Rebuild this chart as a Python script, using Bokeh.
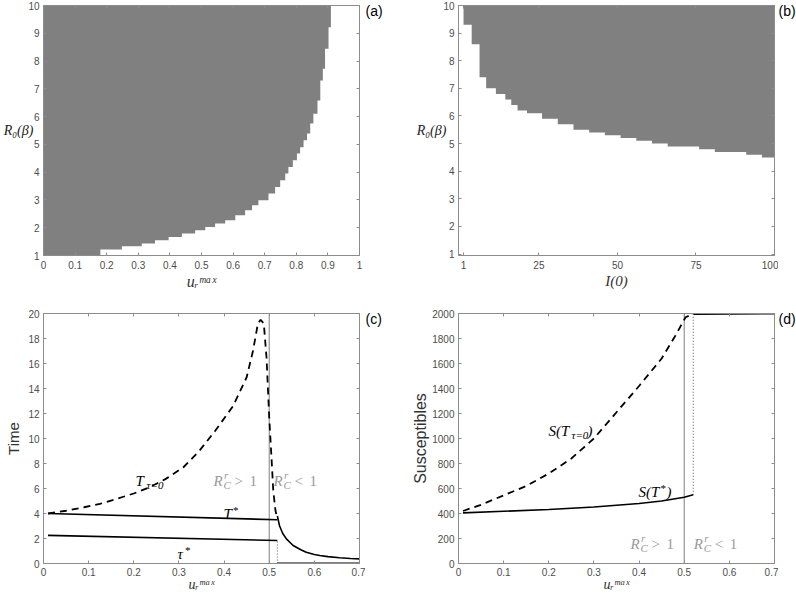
from bokeh.plotting import figure
from bokeh.models import Range1d, FixedTicker, LinearAxis, Label, CustomJSTickFormatter, Spacer
from bokeh.layouts import column, row
from bokeh.embed import file_html
from bokeh.resources import INLINE

# ---------------- data ----------------
# (a) feasible region: rows of R0 with right edge in u_r^max
a_R_lo = [1.0, 1.22, 1.33, 1.43, 1.55, 1.67, 1.79, 1.91, 2.03, 2.15, 2.27, 2.45, 2.63, 2.81, 2.99,
          3.23, 3.47, 3.71, 3.95, 4.19, 4.43, 4.67, 4.9, 5.15, 5.39, 5.75, 6.1, 6.58, 7.3, 7.72, 8.44, 9.22]
a_R_hi = a_R_lo[1:] + [10.0]
a_u_edge = [0.18, 0.248, 0.311, 0.353, 0.396, 0.438, 0.48, 0.512, 0.543, 0.575, 0.607, 0.638, 0.66, 0.68, 0.712,
            0.733, 0.749, 0.765, 0.775, 0.789, 0.802, 0.812, 0.823, 0.834, 0.844, 0.854, 0.867, 0.876, 0.884, 0.891,
            0.902, 0.9095]

# (b) region above threshold R0 for I(0)
b_I_left = [1, 3.6, 6.1, 8.2, 11.3, 14.3, 16.2, 18.2, 21.2, 26, 31, 36, 41, 46, 51, 56, 61, 66, 76, 81, 91, 96]
b_I_right = b_I_left[1:] + [100]
b_R_thr = [9.3, 8.6, 7.4, 7.0, 6.8, 6.6, 6.4, 6.2, 6.1, 5.9, 5.7, 5.5, 5.4, 5.3, 5.2, 5.1, 5.0, 4.9, 4.8, 4.7, 4.6, 4.5]

# (c) times
c_T0_u = [0.01, 0.05, 0.09, 0.125, 0.16, 0.2, 0.235, 0.27, 0.31, 0.345, 0.38, 0.42, 0.45, 0.464, 0.475,
          0.481, 0.488, 0.494, 0.5, 0.505, 0.509, 0.514, 0.518]
c_T0_v = [4.0, 4.22, 4.5, 4.77, 5.15, 5.6, 6.1, 6.75, 7.7, 9.0, 10.6, 12.6, 14.9, 17.0, 19.2,
          19.5, 19.2, 16.5, 11.7, 8.5, 5.8, 4.2, 3.6]
c_Tstar_u = [0.01, 0.518]
c_Tstar_v = [4.0, 3.5]
c_tail_u = [0.518, 0.523, 0.53, 0.538, 0.553, 0.57, 0.582, 0.6, 0.612, 0.63, 0.656, 0.68, 0.7]
c_tail_v = [3.8, 3.0, 2.4, 1.97, 1.44, 1.1, 0.9, 0.72, 0.64, 0.55, 0.46, 0.4, 0.37]
c_tau_u = [0.01, 0.518]
c_tau_v = [2.25, 1.84]
c_zero_u = [0.518, 0.7]
c_zero_v = [0.0, 0.0]
c_switch = 0.518
c_RC1 = 0.5

# (d) susceptibles
d_S0_u = [0.01, 0.05, 0.1, 0.15, 0.2, 0.25, 0.3, 0.35, 0.4, 0.45, 0.48, 0.503, 0.515]
d_S0_v = [420, 470, 545, 620, 720, 840, 1000, 1210, 1420, 1640, 1820, 1970, 1990]
d_top_u = [0.52, 0.7]
d_top_v = [1995, 2000]
d_Sstar_u = [0.01, 0.1, 0.2, 0.3, 0.4, 0.45, 0.5, 0.52]
d_Sstar_v = [405, 418, 432, 452, 480, 500, 530, 550]
d_switch = 0.52
d_RC1 = 0.5

a_xticks = [0, 0.1, 0.2, 0.3, 0.4, 0.5, 0.6, 0.7, 0.8, 0.9, 1]
a_yticks = [1, 2, 3, 4, 5, 6, 7, 8, 9, 10]
b_xticks = [1, 25, 50, 75, 100]
cd_xticks = [0, 0.1, 0.2, 0.3, 0.4, 0.5, 0.6, 0.7]
c_yticks = [0, 2, 4, 6, 8, 10, 12, 14, 16, 18, 20]
d_yticks = [0, 200, 400, 600, 800, 1000, 1200, 1400, 1600, 1800, 2000]

panel_tags = ["(a)", "(b)", "(c)", "(d)"]

# ---------------- style ----------------
GRAY = "#808080"
AX = "#8c8c8c"
TXT = "#4d4d4d"
LBL = "#9a9a9a"
SERIF = "Liberation Serif"
SANS = "Liberation Sans"
U_MAX = "uᵣᵐᵃˣ"
R0B = "R₀(β)"


def make_fig(xr, yr, fw, fh, mbl, mbr, mbt, mbb, xt, yt):
    p = figure(x_range=Range1d(*xr), y_range=Range1d(*yr), frame_width=fw, frame_height=fh,
               min_border_left=mbl, min_border_right=mbr, min_border_top=mbt, min_border_bottom=mbb,
               output_backend="svg", toolbar_location=None,
               background_fill_color="white", border_fill_color="white")
    p.grid.visible = False
    p.outline_line_color = AX
    bx, ly = p.below[0], p.left[0]
    fmt = "return String(Math.round(tick*1000)/1000)"
    bx.ticker = FixedTicker(ticks=xt)
    ly.ticker = FixedTicker(ticks=yt)
    bx.formatter = CustomJSTickFormatter(code=fmt)
    ly.formatter = CustomJSTickFormatter(code=fmt)
    top = LinearAxis(ticker=FixedTicker(ticks=xt), formatter=CustomJSTickFormatter(code="return ''"),
                     major_label_text_font_size="0px", major_label_standoff=0)
    rgt = LinearAxis(ticker=FixedTicker(ticks=yt), formatter=CustomJSTickFormatter(code="return ''"),
                     major_label_text_font_size="0px", major_label_standoff=0)
    p.add_layout(top, "above")
    p.add_layout(rgt, "right")
    for ax in (bx, ly, top, rgt):
        ax.major_tick_in = 3
        ax.major_tick_out = 0
        ax.minor_tick_line_color = None
        ax.axis_line_color = AX
        ax.major_tick_line_color = AX
    for ax in (bx, ly):
        ax.major_label_text_font = SANS
        ax.major_label_text_font_size = "10px"
        ax.major_label_text_color = TXT
    bx.major_label_standoff = 5
    ly.major_label_standoff = 4
    return p, bx, ly


def math_xlabel(ax, text, size=16, standoff=1):
    ax.axis_label = text
    ax.axis_label_text_font = SERIF
    ax.axis_label_text_font_style = "italic"
    ax.axis_label_text_font_size = f"{size}px"
    ax.axis_label_text_color = "#333333"
    ax.axis_label_standoff = standoff


def math_ylabel(ax, text, standoff):
    ax.axis_label = text
    ax.axis_label_orientation = "horizontal"
    ax.axis_label_text_font = SERIF
    ax.axis_label_text_font_style = "italic"
    ax.axis_label_text_font_size = "14px"
    ax.axis_label_text_color = "#222222"
    ax.axis_label_standoff = standoff


def sans_ylabel(ax, text, size, standoff):
    ax.axis_label = text
    ax.axis_label_text_font = SANS
    ax.axis_label_text_font_style = "normal"
    ax.axis_label_text_font_size = f"{size}px"
    ax.axis_label_text_color = "#333333"
    ax.axis_label_standoff = standoff


def put(p, x, y, text, dx=0, dy=0, size=15, font=SERIF, style="italic", color="black",
        align="left", baseline="alphabetic"):
    p.add_layout(Label(x=x, y=y, x_offset=dx, y_offset=dy, text=text, text_font=font,
                       text_font_style=style, text_font_size=f"{size}px", text_color=color,
                       text_align=align, text_baseline=baseline))


def rc(p, x, y, sym):
    put(p, x, y, "R", color=LBL)
    put(p, x, y, "C", dx=10, dy=-4, size=11, color=LBL)
    put(p, x, y, "r", dx=10.5, dy=6, size=11, color=LBL)
    put(p, x, y, sym, dx=21, style="normal", color=LBL)
    put(p, x, y, "1", dx=36, style="normal", color=LBL)


def tag_fig(text, w, h, top_gap):
    t = figure(width=w, height=h, x_range=Range1d(0, 1), y_range=Range1d(0, 1),
               x_axis_type=None, y_axis_type=None, toolbar_location=None, output_backend="svg",
               min_border=0, outline_line_color=None)
    t.grid.visible = False
    t.add_layout(Label(x=0, y=1, y_offset=-top_gap, text=text, text_font=SANS, text_font_size="14px",
                       text_baseline="top", text_align="left", text_color="black"))
    return t


# ---------------- (a) ----------------
pa, pa_x, pa_y = make_fig((0, 1), (1, 10), 316, 250, 43, 6, 5, 45, a_xticks, a_yticks)
a_px, a_py = [0.0], [a_R_lo[0]]
for u, lo, hi in zip(a_u_edge, a_R_lo, a_R_hi):
    a_px += [u, u]
    a_py += [lo, hi]
a_px.append(0.0)
a_py.append(10.0)
pa.patch(a_px, a_py, fill_color=GRAY, line_color=None)
math_ylabel(pa_y, R0B, -8)
math_xlabel(pa_x, U_MAX)

# ---------------- (b) ----------------
pb, pb_x, pb_y = make_fig((-0.6, 100), (0.95, 10), 316, 250, 58, 4, 5, 45, b_xticks, a_yticks)
b_px, b_py = [b_I_left[0]], [10.0]
for l, r, t in zip(b_I_left, b_I_right, b_R_thr):
    b_px += [l, r]
    b_py += [t, t]
b_px.append(b_I_right[-1])
b_py.append(10.0)
pb.patch(b_px, b_py, fill_color=GRAY, line_color=None)
math_ylabel(pb_y, R0B, -6)
math_xlabel(pb_x, "I(0)", 15)

# ---------------- (c) ----------------
pc, pc_x, pc_y = make_fig((0, 0.7), (0, 20), 316, 250, 43, 6, 13, 32, cd_xticks, c_yticks)
pc.line([c_RC1, c_RC1], [0, 20], line_color=GRAY, line_width=1)
pc.line(c_T0_u, c_T0_v, line_color="black", line_width=1.8, line_dash="7 5")
pc.line(c_Tstar_u, c_Tstar_v, line_color="black", line_width=1.6)
pc.line(c_tail_u, c_tail_v, line_color="black", line_width=1.6)
pc.line(c_tau_u, c_tau_v, line_color="black", line_width=1.6)
pc.line([c_switch, c_switch], [0, c_tau_v[-1]], line_color="#555555", line_width=1, line_dash="1 2")
pc.line(c_zero_u, c_zero_v, line_color="black", line_width=2)
put(pc, 0.204, 6.64, "T")
put(pc, 0.204, 6.64, "τ=0", dx=11, dy=-4, size=11)
rc(pc, 0.3766, 6.64, ">")
rc(pc, 0.5095, 6.64, "<")
put(pc, 0.399, 4.0, "T")
put(pc, 0.399, 4.0, "*", dx=9.5, dy=4, size=11, style="normal")
put(pc, 0.297, 0.8, "τ")
put(pc, 0.297, 0.8, "*", dx=7.5, dy=4, size=11, style="normal")
sans_ylabel(pc_y, "Time", 15, 3)
pc_x.major_label_standoff = 4
math_xlabel(pc_x, U_MAX, 14, -2)

# ---------------- (d) ----------------
pd, pd_x, pd_y = make_fig((0, 0.7), (0, 2000), 316, 250, 58, 4, 13, 32, cd_xticks, d_yticks)
pd.line([d_RC1, d_RC1], [0, 2000], line_color=GRAY, line_width=1)
pd.line(d_S0_u, d_S0_v, line_color="black", line_width=1.8, line_dash="7 5")
pd.line(d_top_u, d_top_v, line_color="black", line_width=2)
pd.line(d_Sstar_u, d_Sstar_v, line_color="black", line_width=1.6)
pd.line([d_switch, d_switch], [d_Sstar_v[-1], 2000], line_color="#555555", line_width=1, line_dash="1 2")
put(pd, 0.1994, 1064, "S(T")
put(pd, 0.1994, 1064, "τ=0", dx=23, dy=-4, size=11)
put(pd, 0.1994, 1064, ")", dx=39)
put(pd, 0.3988, 570, "S(T")
put(pd, 0.3988, 570, "*", dx=22, dy=4, size=11, style="normal")
put(pd, 0.3988, 570, ")", dx=28)
rc(pd, 0.381, 157, ">")
rc(pd, 0.5213, 157, "<")
sans_ylabel(pd_y, "Susceptibles", 16, 0)
pd_x.major_label_standoff = 4
math_xlabel(pd_x, U_MAX, 14, -2)

# ---------------- panel tags ----------------
ta = column(tag_fig(panel_tags[0], 35, 22, 2), Spacer(width=35, height=278))
tb = column(tag_fig(panel_tags[1], 18, 22, 2), Spacer(width=18, height=278))
tc = column(tag_fig(panel_tags[2], 35, 30, 10), Spacer(width=35, height=265))
td = column(tag_fig(panel_tags[3], 18, 30, 10), Spacer(width=18, height=265))

layout = column(row(pa, ta, pb, tb), row(pc, tc, pd, td))
open("out.html", "w").write(file_html(layout, INLINE))
